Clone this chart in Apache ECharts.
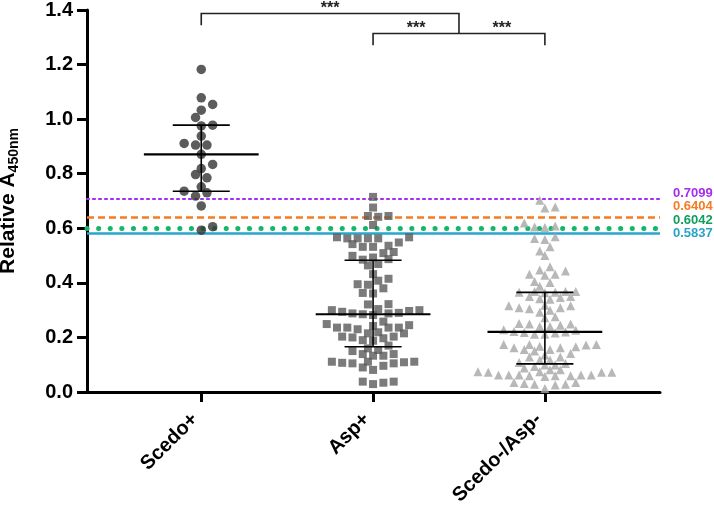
<!DOCTYPE html>
<html><head><meta charset="utf-8">
<script src="https://cdn.jsdelivr.net/npm/echarts@6/dist/echarts.min.js"></script>
<style>html,body{margin:0;padding:0;background:#fff}#c{width:714px;height:506px}</style>
</head><body><div id="c"></div>
<script>
const categories = ['Scedo+', 'Asp+', 'Scedo-/Asp-'];
const scedoPos = [1.182, 1.078, 1.054, 1.033, 1.006, 0.975, 0.978, 0.938, 0.905, 0.905, 0.911, 0.871,
  0.834, 0.819, 0.797, 0.785, 0.752, 0.730, 0.736, 0.718, 0.682, 0.606, 0.593];
const aspPos = [0.715, 0.676, 0.645, 0.642, 0.645, 0.612,
  0.567, 0.563, 0.563, 0.567, 0.563, 0.563,
  0.548, 0.542, 0.536, 0.532, 0.532, 0.513, 0.509, 0.499, 0.493, 0.487, 0.485, 0.469, 0.464,
  0.432, 0.408, 0.415, 0.393, 0.395, 0.380, 0.363, 0.361, 0.322,
  0.304, 0.300, 0.294, 0.290, 0.285, 0.282, 0.288, 0.288, 0.297, 0.300, 0.321,
  0.258, 0.245, 0.236, 0.236, 0.230, 0.236, 0.236, 0.242, 0.249,
  0.219, 0.215, 0.203, 0.197, 0.188, 0.215, 0.190, 0.200, 0.203,
  0.160, 0.150, 0.139, 0.133, 0.133, 0.139, 0.154, 0.170,
  0.111, 0.109, 0.107, 0.105, 0.090, 0.081, 0.096, 0.105, 0.111, 0.111,
  0.038, 0.029, 0.034, 0.038];
const scedoNegAspNeg = [0.703, 0.678, 0.674, 0.619, 0.608, 0.605, 0.603, 0.569, 0.563, 0.559, 0.532, 0.517,
  0.500, 0.459, 0.447, 0.443, 0.432, 0.432, 0.428, 0.405, 0.401, 0.388,
  0.368, 0.366, 0.364, 0.366, 0.368, 0.368,
  0.350, 0.342, 0.340, 0.346, 0.350,
  0.316, 0.309, 0.300, 0.292, 0.305, 0.309, 0.316, 0.318,
  0.276, 0.272, 0.251, 0.249, 0.249, 0.240, 0.245, 0.240,
  0.226, 0.220, 0.216, 0.212, 0.212, 0.218, 0.222, 0.228,
  0.174, 0.174, 0.168, 0.162, 0.156, 0.150, 0.156, 0.162, 0.166, 0.172, 0.174,
  0.141, 0.128, 0.117, 0.108, 0.099, 0.099, 0.104, 0.117, 0.128, 0.136,
  0.093, 0.082, 0.074, 0.072, 0.072, 0.072, 0.074, 0.082, 0.088,
  0.062, 0.057, 0.062, 0.060, 0.062, 0.062, 0.060, 0.062, 0.060,
  0.035, 0.028, 0.026, 0.028, 0.031, 0.035,
  0.013];
const medians = [0.871, 0.285, 0.220];
const upperBars = [0.978, 0.483, 0.365];
const lowerBars = [0.736, 0.166, 0.103];
const cutoffValues = [0.7099, 0.6404, 0.6042, 0.5837];
const cutoffLabels = ['0.7099', '0.6404', '0.6042', '0.5837'];
const cutoffColors = ['#a52cf2', '#f57c22', '#12b76a', '#2aa6cc'];
const cutoffLabelColors = ['#a52cf2', '#f57c22', '#0f9e5e', '#2aa3c8'];
const yMin = 0, yMax = 1.4, yStep = 0.2;
// significance brackets
const bracketFrom = [1, 2];
const bracketTo = [2.5, 3];
const bracketY = [1.387, 1.314];
const bracketLeftEnd = [1.344, 1.271];
const bracketRightEnd = [1.314, 1.271];
const starX = [1.75, 2.25, 2.75];
const starY = [1.387, 1.314, 1.314];
const starText = ['***', '***', '***'];

const FONT = "'Liberation Sans', Arial, sans-serif";
const chart = echarts.init(document.getElementById('c'));

const base = {
  animation: false,
  backgroundColor: '#fff',
  grid: { left: 87, right: 54, top: 10, bottom: 114, containLabel: false, outerBoundsMode: 'none' },
  xAxis: {
    type: 'value', min: 0.335, max: 3.67,
    splitLine: { show: false },
    axisLine: { show: true, lineStyle: { color: '#000', width: 3 } },
    axisTick: { show: true, customValues: [1, 2, 3], length: 10, lineStyle: { color: '#000', width: 3 } },
    axisLabel: {
      customValues: [1, 2, 3], rotate: 45, margin: 18, padding: [0, 9, 0, 0],
      formatter: v => categories[Math.round(v) - 1] || '',
      color: '#000', fontWeight: 'bold', fontSize: 20, fontFamily: FONT
    }
  },
  yAxis: {
    type: 'value', min: yMin, max: yMax, interval: yStep,
    name: '{a|Relative A}{b|450nm}',
    nameLocation: 'middle', nameGap: 66, nameRotate: 90,
    nameTextStyle: {
      rich: {
        a: { fontSize: 21, fontWeight: 'bold', fontFamily: FONT, color: '#000', lineHeight: 26, verticalAlign: 'middle' },
        b: { fontSize: 14, fontWeight: 'bold', fontFamily: FONT, color: '#000', lineHeight: 26, verticalAlign: 'bottom' }
      }
    },
    splitLine: { show: false },
    axisLine: { show: true, lineStyle: { color: '#000', width: 3 } },
    axisTick: { show: true, length: 10, lineStyle: { color: '#000', width: 3 } },
    axisLabel: { formatter: v => v.toFixed(1), margin: 14, color: '#000', fontWeight: 'bold', fontSize: 20, fontFamily: FONT }
  },
  series: []
};
chart.setOption(base);

function pxPerUnit() {
  const a = chart.convertToPixel({ gridIndex: 0 }, [1, 0]);
  const b = chart.convertToPixel({ gridIndex: 0 }, [2, 1]);
  return { x: b[0] - a[0], y: a[1] - b[1] };
}
const ppu = pxPerUnit();

// GraphPad-like beeswarm: half-step lattice, points placed bottom-up at the free slot
// nearest the centre; neighbours half a step apart may interlock if offset vertically.
function swarm(values, center, D, S, a) {
  const idx = values.map((v, i) => i).sort((i, j) => values[i] - values[j]);
  const placed = [];
  const out = new Array(values.length);
  let side = 1;
  const collide = (p, x, y) => {
    const dx = Math.abs(p.x - x), dy = Math.abs(p.y - y);
    if (dx < 0.25 * D) return dy < S;
    if (dx < 0.75 * D) return dy < a;
    return false;
  };
  idx.forEach(i => {
    const py = values[i] * ppu.y;
    let chosen = 0;
    for (let k = 0; k < 80; k++) {
      const cands = k === 0 ? [0] : [side * k * D / 2, -side * k * D / 2];
      const hit = cands.find(c => placed.every(p => !collide(p, c, py)));
      if (hit !== undefined) { chosen = hit; break; }
    }
    if (chosen !== 0) side = chosen > 0 ? -1 : 1;
    placed.push({ x: chosen, y: py });
    out[i] = [center + chosen / ppu.x, values[i]];
  });
  return out;
}

const statData = categories.map((c, i) => [i + 1, medians[i], upperBars[i], lowerBars[i]]);
const bracketData = bracketFrom.map((f, i) => [f, bracketTo[i], bracketY[i], bracketLeftEnd[i], bracketRightEnd[i]]);
const starData = starX.map((x, i) => [x, starY[i]]);

const series = [
  {
    type: 'scatter', name: categories[0], symbol: 'circle', symbolSize: 9.5, z: 3,
    itemStyle: { color: '#333333' },
    data: swarm(scedoPos, 1, 11.4, 10, 6),
    markLine: {
      silent: true, symbol: 'none', z: 1, label: { show: false },
      data: cutoffValues.map((v, i) => ({
        yAxis: v,
        lineStyle: [
          { color: cutoffColors[0], width: 2.2, type: [2, 4], cap: 'round' },
          { color: cutoffColors[1], width: 2.5, type: [7, 4] },
          { color: cutoffColors[2], width: 5, type: [0.1, 11.5], cap: 'round' },
          { color: cutoffColors[3], width: 2.5, type: 'solid' }
        ][i]
      }))
    }
  },
  {
    type: 'scatter', name: categories[1], symbol: 'rect', symbolSize: 8, z: 3,
    itemStyle: { color: '#5a5a5a' },
    data: swarm(aspPos, 2, 10.3, 9, 5.5)
  },
  {
    type: 'scatter', name: categories[2], symbol: 'triangle', symbolSize: 9, z: 3,
    itemStyle: { color: '#a6a6a6' },
    data: swarm(scedoNegAspNeg, 3, 10.3, 9, 4.5)
  },
  {
    type: 'custom', z: 5, silent: true,
    data: statData,
    renderItem: (params, api) => {
      const x = api.value(0), m = api.value(1), u = api.value(2), l = api.value(3);
      const seg = (x1, y1, x2, y2, w) => {
        const p1 = api.coord([x1, y1]), p2 = api.coord([x2, y2]);
        return { type: 'line', shape: { x1: p1[0], y1: p1[1], x2: p2[0], y2: p2[1] }, style: { stroke: '#000', lineWidth: w } };
      };
      return {
        type: 'group', children: [
          seg(x - 0.334, m, x + 0.334, m, 2.2),
          seg(x - 0.166, u, x + 0.166, u, 1.6),
          seg(x - 0.166, l, x + 0.166, l, 1.6),
          seg(x, l, x, u, 1.6)
        ]
      };
    }
  },
  {
    type: 'custom', z: 5, silent: true, clip: false,
    data: bracketData,
    renderItem: (params, api) => {
      const f = api.value(0), t = api.value(1), y = api.value(2), le = api.value(3), re = api.value(4);
      const a = api.coord([f, le]), b = api.coord([f, y]), c = api.coord([t, y]), d = api.coord([t, re]);
      return { type: 'polyline', shape: { points: [a, b, c, d] }, style: { stroke: '#222', lineWidth: 1.6, fill: null } };
    }
  },
  {
    type: 'custom', z: 5, silent: true, clip: false,
    data: starData,
    renderItem: (params, api) => {
      const p = api.coord([api.value(0), api.value(1)]);
      return { type: 'text', x: p[0], y: p[1] + 3,
        style: { text: starText[params.dataIndex], fill: '#222', font: 'bold 16px ' + FONT, align: 'center', verticalAlign: 'bottom' } };
    }
  }
];

chart.setOption({ series });

const endX = chart.convertToPixel({ gridIndex: 0 }, [3.67, 0])[0];
const firstY = chart.convertToPixel({ gridIndex: 0 }, [1, cutoffValues[0]])[1];
chart.setOption({
  graphic: cutoffLabels.map((t, i) => ({
    type: 'text', x: endX + 13, y: firstY - 5 + i * 13.4,
    style: { text: t, fill: cutoffLabelColors[i], font: 'bold 13px ' + FONT, align: 'left', verticalAlign: 'middle' }
  }))
});
</script>
</body></html>
